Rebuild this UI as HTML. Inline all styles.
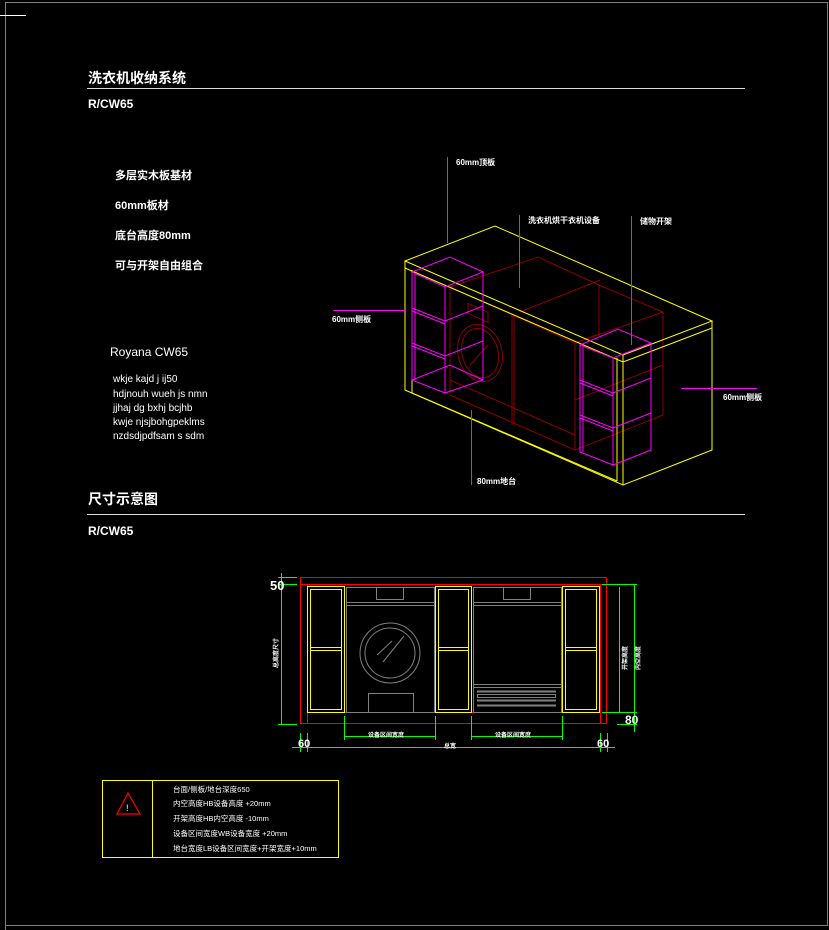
<!DOCTYPE html>
<html><head><meta charset="utf-8"><style>
html,body{margin:0;padding:0;background:#000;}
svg{display:block;}
text{font-family:"Liberation Sans","Noto Sans CJK SC",sans-serif;fill:#fff;}
</style></head><body>
<svg width="829" height="930" viewBox="0 0 829 930" xmlns="http://www.w3.org/2000/svg">
<rect width="829" height="930" fill="#000"/>
<!-- frame -->
<path d="M5.5 930 V2.5 H827.5 V925.5 H5.5" fill="none" stroke="#808080" stroke-width="1"/>
<line x1="0" y1="15.5" x2="26" y2="15.5" stroke="#fff"/>

<!-- titles -->
<text x="88" y="83" font-size="14" font-weight="bold">洗衣机收纳系统</text>
<line x1="87" y1="88.5" x2="745" y2="88.5" stroke="#ddd"/>
<text x="88" y="108" font-size="12" font-weight="bold" font-family="Liberation Mono">R/CW65</text>
<text x="88" y="504" font-size="14" font-weight="bold">尺寸示意图</text>
<line x1="87" y1="514.5" x2="745" y2="514.5" stroke="#ddd"/>
<text x="88" y="535" font-size="12" font-weight="bold" font-family="Liberation Mono">R/CW65</text>

<!-- left texts -->
<g font-size="11" font-weight="bold">
<text x="115" y="179">多层实木板基材</text>
<text x="115" y="209">60mm板材</text>
<text x="115" y="239">底台高度80mm</text>
<text x="115" y="269">可与开架自由组合</text>
</g>
<text x="110" y="356" font-size="12" font-family="Liberation Mono">Royana CW65</text>
<g font-size="10" font-family="Liberation Mono">
<text x="113" y="382">wkje kajd j  ij50</text>
<text x="113" y="397">hdjnouh wueh js nmn</text>
<text x="113" y="411">jjhaj dg bxhj bcjhb</text>
<text x="113" y="425">kwje njsjbohgpeklms</text>
<text x="113" y="439">nzdsdjpdfsam s sdm</text>
</g>

<!-- isometric: dark red washers -->
<g stroke="#8b0000" fill="none" stroke-width="1">
<path d="M450 287 L538 257 L599 285 L663 312 L663 415 L575 450 L450 395 Z"/>
<path d="M450 287 L575 343 L663 312"/>
<path d="M575 343 L575 450"/>
<path d="M512 315 L512 425"/>
<path d="M514 316 L514 426"/>
<path d="M575 343 L599 334 L599 285"/>
<path d="M520 312 L600 280"/>
<path d="M575 400 L663 365"/>
<rect x="468" y="303" width="20" height="10" transform="skewY(24) translate(0,-208)"/>
<ellipse cx="480" cy="353" rx="22" ry="29" transform="rotate(-15 480 353)"/>
<ellipse cx="480" cy="353" rx="18" ry="25" transform="rotate(-15 480 353)"/>
<line x1="470" y1="365" x2="488" y2="345"/>
<path d="M450 380 L575 435"/>
</g>
<!-- yellow box -->
<g stroke="#ffff00" fill="none" stroke-width="1">
<path d="M405 261 L495 226 L712 321 L623 355 Z"/>
<path d="M405 268 L623 362 L712 328"/>
<path d="M405 261 L405 390 L623 485 L712 450 L712 321"/>
<path d="M412 270 L412 393 L617 481"/>
<path d="M617 358 L617 481"/>
<path d="M623 355 L623 485"/>
</g>
<!-- magenta shelves -->
<g stroke="#ff00ff" fill="none" stroke-width="1">
<path d="M412 272 L450 257 L483 272 L445 287 Z"/>
<path d="M412 272 L412 380 L445 393 L445 287"/>
<path d="M415 274 L415 380"/>
<path d="M483 272 L483 380 L445 393"/>
<path d="M412 380 L450 365 L483 380"/>
<path d="M412 308 L445 321 L483 306"/>
<path d="M412 311 L445 324"/>
<path d="M412 343 L445 356 L483 341"/>
<path d="M412 346 L445 359"/>
<path d="M580 345 L618 329 L651 343 L613 358 Z"/>
<path d="M580 345 L580 452 L613 465 L613 358"/>
<path d="M583 347 L583 452"/>
<path d="M651 343 L651 450 L613 465"/>
<path d="M580 380 L613 393 L651 378"/>
<path d="M580 383 L613 396"/>
<path d="M580 415 L613 428 L651 413"/>
<path d="M580 418 L613 431"/>
<!-- leaders -->
<line x1="447.5" y1="157" x2="447.5" y2="243"/>
<line x1="519.5" y1="215" x2="519.5" y2="288"/>
<line x1="631.5" y1="216" x2="631.5" y2="345"/>
<line x1="471.5" y1="410" x2="471.5" y2="485"/>
<line x1="333" y1="310.5" x2="405" y2="310.5"/>
<line x1="681" y1="388.5" x2="757" y2="388.5"/>
</g>
<g font-size="8" font-weight="bold">
<text x="456" y="165">60mm顶板</text>
<text x="528" y="223">洗衣机烘干衣机设备</text>
<text x="640" y="224">储物开架</text>
<text x="332" y="322">60mm侧板</text>
<text x="723" y="400">60mm侧板</text>
<text x="477" y="484">80mm地台</text>
</g>

<!-- elevation -->
<g fill="none" stroke-width="1">
<rect x="300.5" y="577.5" width="306" height="146" stroke="#ff0000"/>
<line x1="300" y1="584.5" x2="607" y2="584.5" stroke="#ff0000"/>
<line x1="307.5" y1="584" x2="307.5" y2="724" stroke="#ff0000"/>
<line x1="600.5" y1="584" x2="600.5" y2="724" stroke="#ff0000"/>
<line x1="345" y1="712.5" x2="562" y2="712.5" stroke="#ff0000"/>
<g stroke="#ffff00">
<rect x="307.5" y="586.5" width="37" height="126"/><rect x="310.5" y="589.5" width="31" height="120"/>
<line x1="310" y1="647.5" x2="342" y2="647.5"/><line x1="310" y1="650.5" x2="342" y2="650.5"/>
<rect x="435.5" y="586.5" width="36" height="126"/><rect x="438.5" y="589.5" width="30" height="120"/>
<line x1="438" y1="647.5" x2="469" y2="647.5"/><line x1="438" y1="650.5" x2="469" y2="650.5"/>
<rect x="562.5" y="586.5" width="37" height="126"/><rect x="565.5" y="589.5" width="31" height="120"/>
<line x1="565" y1="647.5" x2="597" y2="647.5"/><line x1="565" y1="650.5" x2="597" y2="650.5"/>
</g>
<g stroke="#808080">
<rect x="346.5" y="587.5" width="88" height="125"/>
<line x1="346" y1="602.5" x2="435" y2="602.5"/><line x1="346" y1="605.5" x2="435" y2="605.5"/>
<rect x="376.5" y="587.5" width="27" height="12"/>
<circle cx="390" cy="653" r="30"/><circle cx="390" cy="653" r="25"/>
<line x1="377" y1="655" x2="392" y2="641"/><line x1="383" y1="662" x2="404" y2="636"/>
<rect x="368.5" y="693.5" width="45" height="19"/>
<rect x="473.5" y="587.5" width="88" height="125"/>
<line x1="473" y1="602.5" x2="562" y2="602.5"/><line x1="473" y1="605.5" x2="562" y2="605.5"/>
<rect x="503.5" y="587.5" width="27" height="12"/>
<line x1="473" y1="684.5" x2="562" y2="684.5"/><line x1="473" y1="687.5" x2="562" y2="687.5"/>
<line x1="477" y1="691.5" x2="556" y2="691.5" stroke-width="2"/>
<rect x="477.5" y="694.5" width="78" height="3"/>
<line x1="477" y1="700.5" x2="556" y2="700.5" stroke-width="2"/>
<line x1="477" y1="705.5" x2="556" y2="705.5" stroke-width="2"/>
</g>
<g stroke="#00ff00">
<line x1="281.5" y1="573" x2="281.5" y2="725"/>
<line x1="278" y1="577.5" x2="297" y2="577.5"/>
<line x1="278" y1="584.5" x2="297" y2="584.5"/>
<line x1="278" y1="724.5" x2="297" y2="724.5"/>
<line x1="634.5" y1="585" x2="634.5" y2="732"/>
<line x1="619.5" y1="587" x2="619.5" y2="712"/>
<line x1="602" y1="584.5" x2="637" y2="584.5"/>
<line x1="602" y1="712.5" x2="637" y2="712.5"/>
<line x1="617" y1="724.5" x2="637" y2="724.5"/>
<line x1="344.5" y1="716" x2="344.5" y2="740"/>
<line x1="435.5" y1="716" x2="435.5" y2="740"/>
<line x1="471.5" y1="716" x2="471.5" y2="740"/>
<line x1="562.5" y1="716" x2="562.5" y2="740"/>
<line x1="345" y1="736.5" x2="435" y2="736.5"/>
<line x1="472" y1="736.5" x2="562" y2="736.5"/>
<line x1="292" y1="747.5" x2="615" y2="747.5"/>
<line x1="300.5" y1="733" x2="300.5" y2="752"/>
<line x1="307.5" y1="733" x2="307.5" y2="752"/>
<line x1="600.5" y1="733" x2="600.5" y2="752"/>
<line x1="607.5" y1="733" x2="607.5" y2="752"/>
</g>
</g>
<g fill="#00ff00" font-size="8" font-weight="bold">
<text x="270" y="590" font-size="13">50</text>
<text x="298" y="747" font-size="11">60</text>
<text x="597" y="747" font-size="11">60</text>
<text x="625" y="724" font-size="12">80</text>
<text x="368" y="737" font-size="6">设备区间宽度</text>
<text x="495" y="737" font-size="6">设备区间宽度</text>
<text x="444" y="748" font-size="6">总宽</text>
<text transform="translate(278 668) rotate(-90)" font-size="6">总高度尺寸</text>
<text transform="translate(627 670) rotate(-90)" font-size="6">开架高度</text>
<text transform="translate(640 670) rotate(-90)" font-size="6">内空高度</text>
</g>

<!-- table -->
<rect x="102.5" y="780.5" width="236" height="77" fill="none" stroke="#ffff00"/>
<line x1="152.5" y1="780" x2="152.5" y2="858" stroke="#ffff00"/>
<path d="M128 793 L140 814 L117 814 Z" fill="none" stroke="#ff0000" stroke-width="1.2"/>
<text x="126" y="811" font-size="9" fill="#fff">!</text>
<g font-size="7.5">
<text x="173" y="792">台面/侧板/地台深度650</text>
<text x="173" y="806">内空高度HB设备高度 +20mm</text>
<text x="173" y="821">开架高度HB内空高度 -10mm</text>
<text x="173" y="836">设备区间宽度WB设备宽度 +20mm</text>
<text x="173" y="851">地台宽度LB设备区间宽度+开架宽度+10mm</text>
</g>
</svg>
</body></html>
